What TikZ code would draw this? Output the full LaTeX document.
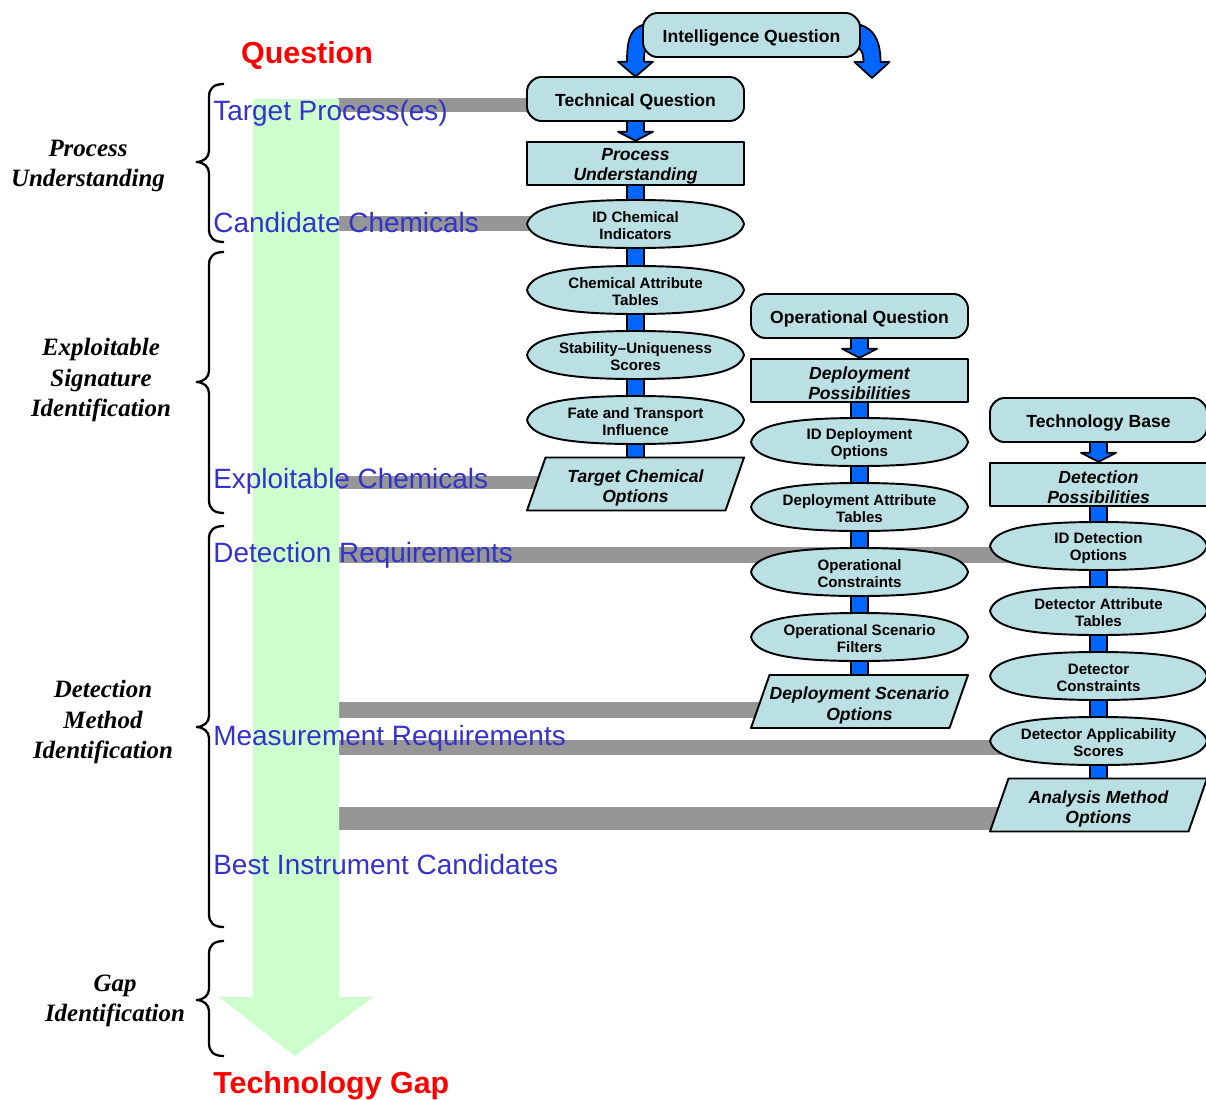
\documentclass[tikz,border=0pt]{standalone}
\usepackage{fontspec}
\setmainfont{Liberation Sans}
\newfontfamily\labelserif{Liberation Serif}
\usetikzlibrary{calc}
\definecolor{nodefill}{RGB}{187,224,227}
\definecolor{flowblue}{RGB}{0,102,255}
\definecolor{labelblue}{RGB}{51,51,204}
\definecolor{bargray}{RGB}{150,150,150}
\definecolor{gapgreen}{RGB}{204,255,204}
\definecolor{titlered}{RGB}{255,0,0}
\pgfdeclarelayer{back}
\pgfdeclarelayer{mid}
\pgfsetlayers{back,mid,main}

% question box with chamfered corners
\newcommand\qnode[4]{%
  \path[outline,rounded corners=2.5pt] (#2-108.5,#3-13) -- (#2-99.5,#3-22) -- (#2+99.5,#3-22) -- (#2+108.5,#3-13)
    -- (#2+108.5,#3+13) -- (#2+99.5,#3+22) -- (#2-99.5,#3+22) -- (#2-108.5,#3+13) -- cycle;
  \node[frame,minimum height=0.88cm] (#1) at (#2,#3) {};
  \node[qtext] (#1-txt) at (#2,#3+3) {#4};}
% rectangular step
\newcommand\rnode[4]{%
  \node[outline,frame,minimum height=0.87cm] (#1) at (#2,#3) {};
  \node[rtext] (#1-txt) at (#2,#3+3) {#4};}
% pointed oval step
\newcommand\lnode[4]{%
  \path[outline] (#2-108.5,#3) .. controls (#2-104.5,#3-15) and (#2-80,#3-24) .. (#2,#3-24)
    .. controls (#2+80,#3-24) and (#2+104.5,#3-15) .. (#2+108.5,#3)
    .. controls (#2+104.5,#3+15) and (#2+80,#3+24) .. (#2,#3+24)
    .. controls (#2-80,#3+24) and (#2-104.5,#3+15) .. (#2-108.5,#3) -- cycle;
  \node[frame,minimum height=0.96cm] (#1) at (#2,#3) {};
  \node[ltext] (#1-txt) at (#2,#3+2) {#4};}
% slanted output box
\newcommand\pnode[4]{%
  \path[outline] (#2-90,#3-26.5) -- (#2+108.5,#3-26.5) -- (#2+90,#3+26.5) -- (#2-108.5,#3+26.5) -- cycle;
  \node[frame,minimum height=1.06cm] (#1) at (#2,#3) {};
  \node[ptext] (#1-txt) at (#2,#3+4) {#4};}
% straight blue link between two steps
\newcommand\shaft[2]{%
  \path[flow] ($(#1.center)+(-8.5,0)$) rectangle ($(#2.center)+(8.5,0)$);}
% blue link ending in an arrow head
\newcommand\headshaft[2]{%
  \path[flow] ($(#1.south)+(-8.5,-3)$) -- ($(#2.north)+(-8.5,-9)$) -- ($(#2.north)+(-17.5,-9)$) -- (#2.north)
    -- ($(#2.north)+(17.5,-9)$) -- ($(#2.north)+(8.5,-9)$) -- ($(#1.south)+(8.5,-3)$) -- cycle;}
% curly brace on the left
\newcommand\phasebrace[3]{%
  \draw[line width=1.3pt] (224,#1) .. controls (214,#1) and (209,#1+4) .. (209,#1+13) -- (209,#2-11)
    .. controls (209,#2-5) and (204,#2) .. (196,#2) .. controls (204,#2) and (209,#2+5) .. (209,#2+11)
    -- (209,#3-13) .. controls (209,#3-4) and (214,#3) .. (224,#3);}

\begin{document}
\begin{tikzpicture}[x=0.02cm,y=-0.02cm,
  outline/.style={draw=black,line width=1.1pt,fill=nodefill,line join=round},
  frame/.style={minimum width=4.34cm,inner sep=0pt},
  qtext/.style={font=\fontsize{10}{12}\selectfont\bfseries,align=center,inner sep=0pt},
  rtext/.style={font=\fontsize{10}{11.3}\selectfont\bfseries\itshape,align=center,inner sep=0pt},
  ltext/.style={font=\fontsize{8.6}{9.6}\selectfont\bfseries,align=center,inner sep=0pt},
  ptext/.style={font=\fontsize{10}{11.5}\selectfont\bfseries\itshape,align=center,inner sep=0pt},
  flow/.style={draw=black,line width=1pt,fill=flowblue,line join=round},
  bar/.style={draw=bargray,line cap=butt},
  stage/.style={text=labelblue,font=\fontsize{15.9}{19}\selectfont,anchor=base west,inner sep=0pt},
  phase/.style={font=\labelserif\bfseries\itshape\fontsize{14.2}{17.2}\selectfont,align=center,inner sep=0pt},
  headline/.style={text=titlered,font=\fontsize{17.3}{20}\selectfont\bfseries,inner sep=0pt}
]
\useasboundingbox (0,0) rectangle (1206,1099);

% ---- chemical column
\qnode{iq}{751.5}{35}{Intelligence Question}
\qnode{tq}{635.5}{99}{Technical Question}
\rnode{pu}{635.5}{163.5}{Process\\Understanding}
\lnode{c1}{635.5}{224}{ID Chemical\\Indicators}
\lnode{c2}{635.5}{290}{Chemical Attribute\\Tables}
\lnode{c3}{635.5}{355}{Stability--Uniqueness\\Scores}
\lnode{c4}{635.5}{420}{Fate and Transport\\Influence}
\pnode{tco}{635.5}{484}{Target Chemical\\Options}

% ---- deployment column
\qnode{oq}{859.5}{316}{Operational Question}
\rnode{dp}{859.5}{380.5}{Deployment\\Possibilities}
\lnode{d1}{859.5}{442}{ID Deployment\\Options}
\lnode{d2}{859.5}{507}{Deployment Attribute\\Tables}
\lnode{d3}{859.5}{572}{Operational\\Constraints}
\lnode{d4}{859.5}{637}{Operational Scenario\\Filters}
\pnode{dso}{859.5}{701.5}{Deployment Scenario\\Options}

% ---- detection column
\qnode{tb}{1098.5}{420}{Technology Base}
\rnode{dtp}{1098.5}{484.5}{Detection\\Possibilities}
\lnode{e1}{1098.5}{546}{ID Detection\\Options}
\lnode{e2}{1098.5}{611}{Detector Attribute\\Tables}
\lnode{e3}{1098.5}{676}{Detector\\Constraints}
\lnode{e4}{1098.5}{741}{Detector Applicability\\Scores}
\pnode{amo}{1098.5}{805}{Analysis Method\\Options}

% ---- blue flow links
\coordinate (iqR) at (872,78);
\begin{pgfonlayer}{mid}
  \path[flow] ($(iq.west)+(14,-12)$) .. controls ($(iq.west)+(-12,-12)$) and ($(tq.north)+(-8.5,-40)$) .. ($(tq.north)+(-8.5,-15)$)
    -- ($(tq.north)+(-17.5,-15)$) -- (tq.north) -- ($(tq.north)+(17.5,-15)$) -- ($(tq.north)+(8.5,-15)$)
    .. controls ($(tq.north)+(8.5,-28)$) and ($(iq.west)+(2,10)$) .. ($(iq.west)+(14,10)$) -- cycle;
  \path[flow] ($(iq.east)+(-14,-12)$) .. controls ($(iq.east)+(12,-12)$) and ($(iqR)+(8.5,-40)$) .. ($(iqR)+(8.5,-16)$)
    -- ($(iqR)+(17.5,-16)$) -- (iqR) -- ($(iqR)+(-17.5,-16)$) -- ($(iqR)+(-8.5,-16)$)
    .. controls ($(iqR)+(-8.5,-29)$) and ($(iq.east)+(-2,10)$) .. ($(iq.east)+(-14,10)$) -- cycle;
  \headshaft{tq}{pu}
  \shaft{pu}{c1}\shaft{c1}{c2}\shaft{c2}{c3}\shaft{c3}{c4}\shaft{c4}{tco}
  \headshaft{oq}{dp}
  \shaft{dp}{d1}\shaft{d1}{d2}\shaft{d2}{d3}\shaft{d3}{d4}\shaft{d4}{dso}
  \headshaft{tb}{dtp}
  \shaft{dtp}{e1}\shaft{e1}{e2}\shaft{e2}{e3}\shaft{e3}{e4}\shaft{e4}{amo}
\end{pgfonlayer}

% ---- grey links and the green progress arrow
\coordinate (tpL) at (338,105);
\coordinate (ccL) at (338,223.5);
\coordinate (ecL) at (338,482.5);
\coordinate (drL) at (338,555);
\coordinate (dsL) at (338,710);
\coordinate (mrL) at (338,747.5);
\coordinate (amL) at (338,818.5);
\begin{pgfonlayer}{back}
  \draw[bar,line width=0.28cm] (tpL) -- (tpL -| tq.center);
  \draw[bar,line width=0.30cm] (ccL) -- (ccL -| c1.center);
  \draw[bar,line width=0.26cm] (ecL) -- (ecL -| tco.center);
  \draw[bar,line width=0.32cm] (drL) -- (drL -| e1.center);
  \draw[bar,line width=0.32cm] (dsL) -- (dsL -| dso.center);
  \draw[bar,line width=0.30cm] (mrL) -- (mrL -| e4.center);
  \draw[bar,line width=0.46cm] (amL) -- (amL -| amo.center);
  \fill[gapgreen] (253,99) -- (339,99) -- (339,997) -- (373,997) -- (295,1056) -- (219,997) -- (253,997) -- cycle;
\end{pgfonlayer}

% ---- stage labels
\node[stage] (s1) at (213,120) {Target Process(es)};
\node[stage] (s2) at (213,232) {Candidate Chemicals};
\node[stage] (s3) at (213,488) {Exploitable Chemicals};
\node[stage] (s4) at (213,562) {Detection Requirements};
\node[stage] (s5) at (213,745) {Measurement Requirements};
\node[stage] (s6) at (213,874) {Best Instrument Candidates};

\node[headline,anchor=base] (qhead) at (307,63) {Question};
\node[headline,anchor=base west] (gaphead) at (213,1093) {Technology Gap};

% ---- phase braces and names
\phasebrace{84}{162}{242}
\phasebrace{252}{382}{513}
\phasebrace{526}{727}{927}
\phasebrace{941}{1000}{1056}
\node[phase] (p1) at (88,166) {Process\\Understanding};
\node[phase] (p2) at (101,380) {Exploitable\\Signature\\Identification};
\node[phase] (p3) at (103,722) {Detection\\Method\\Identification};
\node[phase] (p4) at (115,1001) {Gap\\Identification};
\end{tikzpicture}
\end{document}
